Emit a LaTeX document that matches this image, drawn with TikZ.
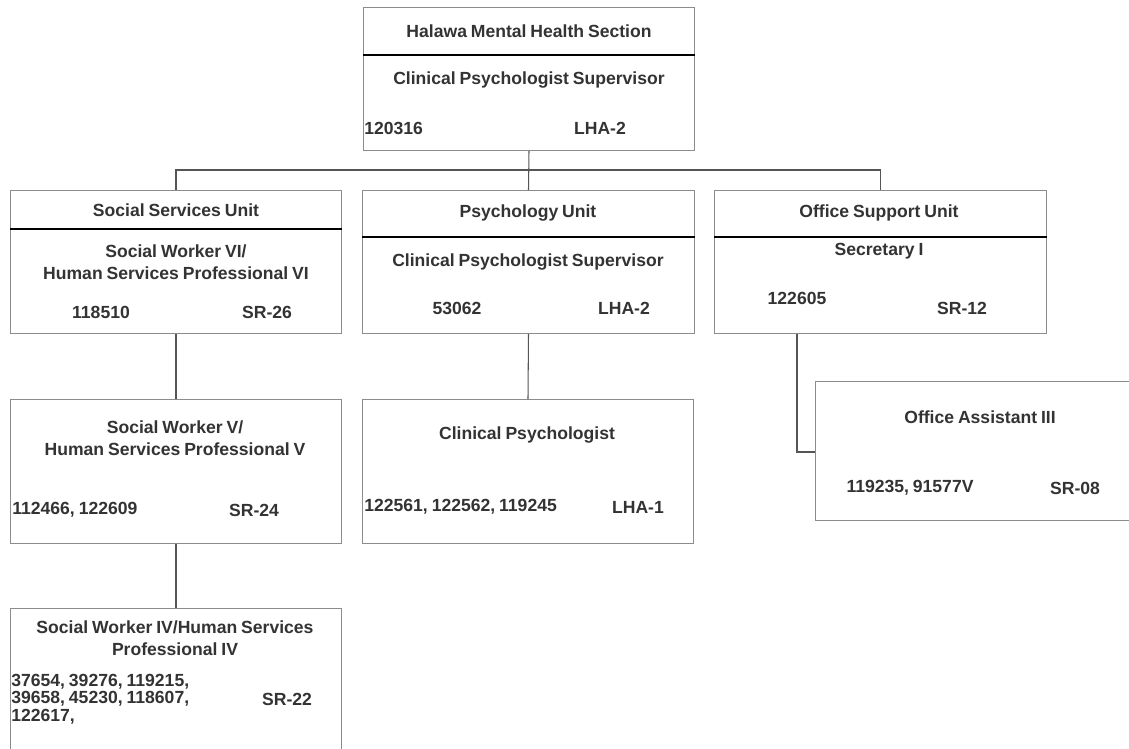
\documentclass[tikz,border=0pt]{standalone}
\usepackage{fontspec}
\setmainfont{Liberation Sans}[WordSpace=0.8]
\usetikzlibrary{positioning}
\definecolor{inkgray}{RGB}{51, 51, 51}
\definecolor{framegray}{RGB}{140, 140, 140}
\definecolor{linkgray}{RGB}{85, 85, 85}

\begin{document}
\begin{tikzpicture}[x=0.02cm, y=-0.02cm,
    box/.style={draw=framegray, line width=0.6pt, anchor=north west, inner sep=0pt, minimum width=6.62cm, minimum height=2.86cm},
    txt/.style={text=inkgray, font=\fontsize{10}{12.5}\selectfont\bfseries, inner sep=0pt, align=center},
    nums/.style={txt, anchor=west, align=left, font=\fontsize{10}{9.8}\selectfont\bfseries},
    link/.style={draw=linkgray, line width=0.6pt},
    rule/.style={draw=black, line width=0.6pt}]
    \clip (0,0) rectangle (1129,748);
    \fill[white] (0,0) rectangle (1129,748);

    % boxes
    \node[box] (top) at (363,7) {};
    \node[box] (soc) at (10,190) {};
    \node[box, minimum width=6.64cm] (psy) at (362,190) {};
    \node[box, minimum width=6.64cm] (off) at (714,190) {};
    \node[box, minimum width=6.5cm, minimum height=2.78cm] (oa) at (815,381) {};
    \node[box, minimum height=2.88cm] (sw5) at (10,399) {};
    \node[box, minimum height=2.88cm] (cp) at (362,399) {};
    \node[box, minimum height=3.84cm] (sw4) at (10,608) {};

    \draw[rule] ([yshift=-0.96cm]top.north west) -- ([yshift=-0.96cm]top.north east);
    \draw[rule] ([yshift=-0.78cm]soc.north west) -- ([yshift=-0.78cm]soc.north east);
    \draw[rule] ([yshift=-0.94cm]psy.north west) -- ([yshift=-0.94cm]psy.north east);
    \draw[rule] ([yshift=-0.94cm]off.north west) -- ([yshift=-0.94cm]off.north east);

    % texts
    \node[txt] (tophd) at (529,31) {Halawa Mental Health Section};
    \node[txt] (toptitle) at (529,80) {Clinical Psychologist Supervisor};
    \node[nums] (topnum) at (364,128) {120316};
    \node[txt] (topgrade) at (600,128) {LHA-2};

    \node[txt] (sochd) at (176,210) {Social Services Unit};
    \node[txt] (soctitle) at (176,262) {Social Worker VI/\\Human Services Professional VI};
    \node[txt] (socnum) at (101,312) {118510};
    \node[txt] (socgrade) at (267,312) {SR-26};

    \node[txt] (psyhd) at (528,213) {Psychology Unit};
    \node[txt] (psytitle) at (528,262) {Clinical Psychologist Supervisor};
    \node[txt] (psynum) at (457,308) {53062};
    \node[txt] (psygrade) at (624,308) {LHA-2};

    \node[txt] (offhd) at (879,213) {Office Support Unit};
    \node[txt] (offtitle) at (879,251) {Secretary I};
    \node[txt] (secnum) at (797,298) {122605};
    \node[txt] (offgrade) at (962,308) {SR-12};

    \node[txt] (oatitle) at (980,417) {Office Assistant III};
    \node[txt] (oanum) at (910,488) {119235, 91577V};
    \node[txt] (oagrade) at (1075,488) {SR-08};

    \node[txt] (sw5title) at (175,438) {Social Worker V/\\Human Services Professional V};
    \node[nums] (sw5num) at (12,510) {112466, 122609};
    \node[txt] (sw5grade) at (254,510) {SR-24};

    \node[txt] (cptitle) at (527,435) {Clinical Psychologist};
    \node[nums] (cpnum) at (364,507) {122561, 122562, 119245};
    \node[txt] (cpgrade) at (638,507) {LHA-1};

    \node[txt] (sw4title) at (175,638) {Social Worker IV/Human Services\\Professional IV};
    \node[nums] (sw4num) at (11,699) {37654, 39276, 119215,\\39658, 45230, 118607,\\122617,};
    \node[txt] (sw4grade) at (287,699) {SR-22};

    % connectors
    \coordinate (bus) at (529,170);
    \coordinate (oajoin) at (815,452);
    \draw[link] (top.south) -- (psy.north);
    \draw[link] (soc.north) |- (bus) -| (off.north);
    \draw[link] (soc.south) -- (sw5.north);
    \draw[link] (sw5.south) -- (sw4.north);
    \draw[link] (psy.south) -- (cp.north);
    \draw[link] (off.south -| secnum) |- (oajoin);
\end{tikzpicture}
\end{document}
